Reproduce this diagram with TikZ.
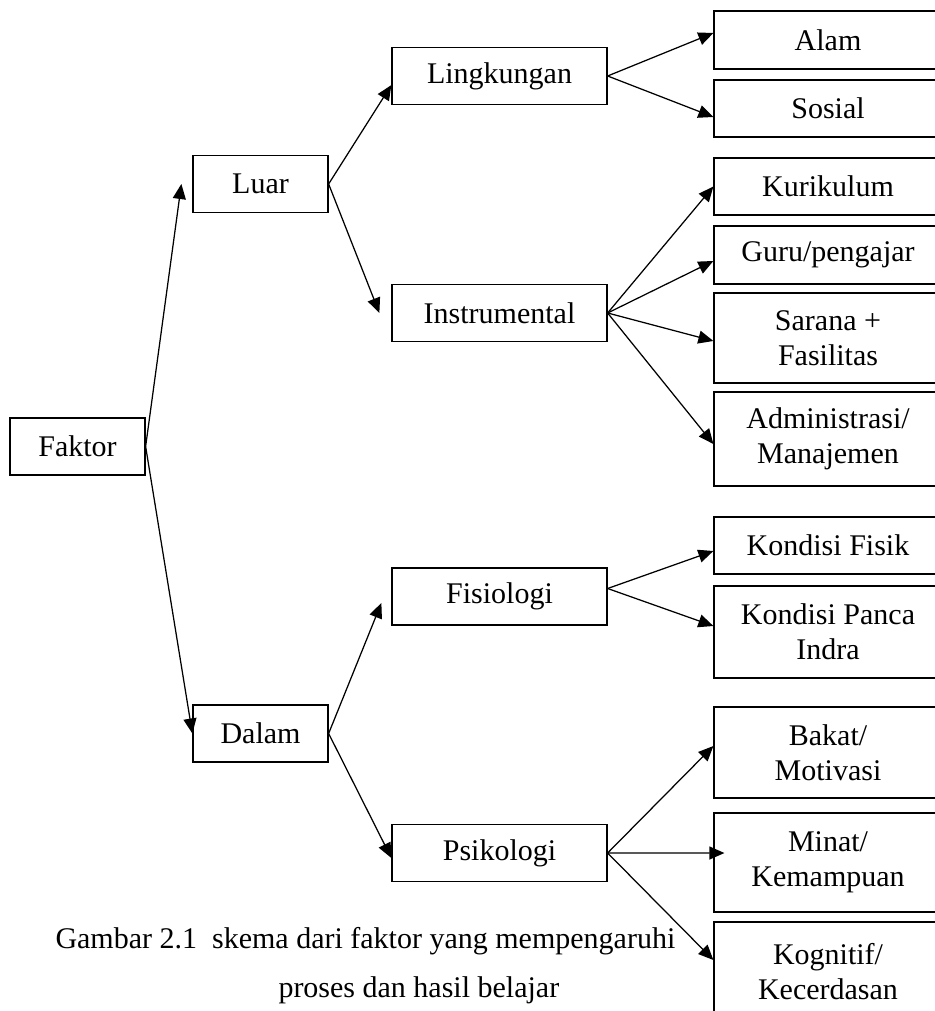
\documentclass[tikz,border=0pt]{standalone}
\usepackage{fontspec}
\setmainfont{Liberation Serif}
\usetikzlibrary{arrows.meta}

\begin{document}
\begin{tikzpicture}[x=0.4pt,y=-0.4pt]

% definitions
\tikzstyle{box} = [rectangle, draw=black, line width=0.5pt, minimum height=22.8pt, text centered, align=center, inner sep=0pt, font=\fontsize{12}{14}\selectfont]

\tikzstyle{first} = [box, minimum width=54pt]

\tikzstyle{second} = [box, minimum width=86pt]

\tikzstyle{third} = [box, minimum width=91.2pt]

\tikzstyle{caption} = [anchor=base west, inner sep=0pt, font=\fontsize{12}{14}\selectfont]

\tikzstyle{arrow} = [-{Triangle[length=6pt,width=5.2pt]}, line width=0.5pt]

\useasboundingbox (0,0) rectangle (934,1011);

% the graph
\node (faktor) [first] at (77.5,446.5) {Faktor};

\node (luar) [first] at (260.5,184) {Luar};

\node (dalam) [first] at (260.5,733.5) {Dalam};

\node (lingkungan) [second] at (499.5,76) {Lingkungan};

\node (instrumental) [second] at (499.5,313) {Instrumental};

\node (fisiologi) [second] at (499.5,596.5) {Fisiologi};

\node (psikologi) [second] at (499.5,853) {Psikologi};

\node (alam) [third, minimum height=23.2pt] at (828,40) {Alam};

\node (sosial) [third] at (828,108.5) {Sosial};

\node (kurikulum) [third] at (828,186.5) {Kurikulum};

\node (guru) [third, minimum height=23.2pt] at (828,255) {Guru/pengajar};

\node (sarana) [third, minimum height=36pt] at (828,338) {Sarana +\\Fasilitas};

\node (admin) [third, minimum height=37.6pt] at (828,439) {Administrasi/\\Manajemen};

\node (fisik) [third] at (828,545.5) {Kondisi Fisik};

\node (panca) [third, minimum height=36.8pt] at (828,632) {Kondisi Panca\\Indra};

\node (bakat) [third, minimum height=36.4pt] at (828,752.5) {Bakat/\\Motivasi};

\node (minat) [third, minimum height=39.6pt] at (828,862.5) {Minat/\\Kemampuan};

\node (kognitif) [third, minimum height=39.6pt] at (828,971.5) {Kognitif/\\Kecerdasan};

\node (cap1) [caption] at (55,948) {Gambar 2.1\ \ skema dari faktor yang mempengaruhi};

\node (cap2) [caption] at (278,997) {proses dan hasil belajar};

\draw [arrow] (faktor.east) -- ([xshift=-4.4pt]luar.west);
\draw [arrow] (faktor.east) -- (dalam.west);

\draw [arrow] (luar.east) -- ([yshift=-3.6pt]lingkungan.west);
\draw [arrow] (luar.east) -- ([xshift=-4.8pt]instrumental.west);

\draw [arrow] (dalam.east) -- ([xshift=-4pt,yshift=-2.6pt]fisiologi.west);
\draw [arrow] (dalam.east) -- ([yshift=-2pt]psikologi.west);

\draw [arrow] (lingkungan.east) -- ([yshift=2.8pt]alam.west);
\draw [arrow] (lingkungan.east) -- ([yshift=-3.4pt]sosial.west);

\draw [arrow] (instrumental.east) -- (kurikulum.west);
\draw [arrow] (instrumental.east) -- ([yshift=-2.4pt]guru.west);
\draw [arrow] (instrumental.east) -- ([yshift=-1.2pt]sarana.west);
\draw [arrow] (instrumental.east) -- ([yshift=-2pt]admin.west);

\draw [arrow] ([yshift=3.2pt]fisiologi.east) -- ([yshift=-2.2pt]fisik.west);
\draw [arrow] ([yshift=3.2pt]fisiologi.east) -- ([yshift=2.4pt]panca.west);

\draw [arrow] (psikologi.east) -- ([yshift=2.6pt]bakat.west);
\draw [arrow] (psikologi.east) -- ([xshift=4.4pt,yshift=3.8pt]minat.west);
\draw [arrow] (psikologi.east) -- ([yshift=4.6pt]kognitif.west);

\end{tikzpicture}
\end{document}
